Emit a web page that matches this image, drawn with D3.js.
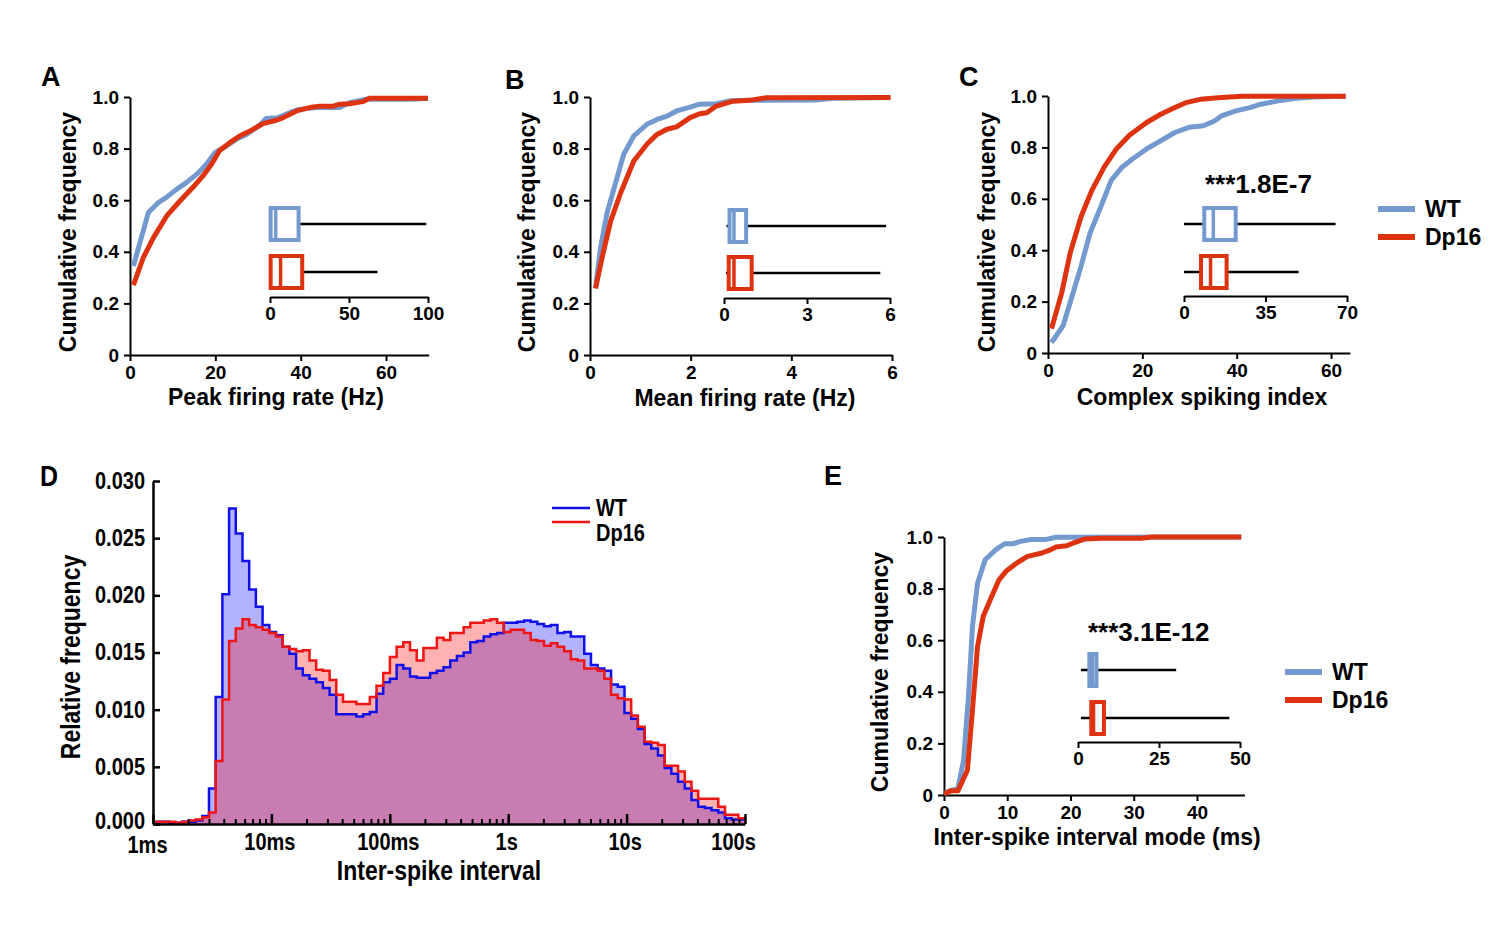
<!DOCTYPE html>
<html>
<head>
<meta charset="utf-8">
<title>Firing properties WT vs Dp16</title>
<style>
  body { margin: 0; background: #fff; }
  svg { display: block; font-family: 'Liberation Sans', Arial, Helvetica, sans-serif; font-weight: bold; }
  .tall { transform-box: fill-box; transform-origin: 50% 50%; transform: scaleY(1.2); }
  .tall2 { transform-box: fill-box; transform-origin: 50% 50%; transform: scaleY(1.15); }
</style>
</head>
<body>
<svg id="fig" width="1500" height="937"></svg>
<script src="https://cdnjs.cloudflare.com/ajax/libs/d3/7.8.5/d3.min.js"></script>
<script>
var WT_COL = '#7399cf', DP_COL = '#dd3311';

// ---- A: peak firing rate (Hz), cumulative [x, f]
var peakWT = [[0.8,0.345],[4.3,0.552],[6.6,0.59],[8.6,0.612],[10.9,0.642],[13.2,0.668],[15.6,0.70],[17.9,0.739],
  [19.9,0.784],[22.6,0.81],[24.9,0.836],[27.3,0.855],[30.4,0.891],[31.9,0.917],[34.7,0.92],[37.4,0.939],[39.7,0.952],
  [43.6,0.959],[49.1,0.959],[51.4,0.978],[55.3,0.991],[66.3,0.991],[69.8,0.995]];
var peakDp = [[0.8,0.271],[3.1,0.377],[5.5,0.455],[8.6,0.539],[11.7,0.597],[14.8,0.651],[17.1,0.694],[19.1,0.739],
  [21.0,0.793],[23.4,0.823],[25.7,0.849],[28.1,0.868],[31.2,0.897],[34.3,0.91],[35.9,0.92],[39.0,0.946],[42.1,0.959],
  [44.4,0.964],[47.5,0.964],[49.1,0.972],[51.4,0.974],[54.6,0.982],[56.1,0.995],[69.8,0.995]];
// box stats: min, q1, median, q3, max
var peakBoxWT = [0, 0.4, 3.6, 18.1, 98.9];
var peakBoxDp = [0, 0.4, 6.7, 20.4, 68];

// ---- B: mean firing rate (Hz)
var meanWT = [[0.11,0.261],[0.21,0.416],[0.34,0.552],[0.51,0.668],[0.67,0.778],[0.87,0.849],[1.13,0.894],[1.33,0.913],
  [1.53,0.926],[1.72,0.946],[1.99,0.961],[2.18,0.972],[2.51,0.974],[2.78,0.985],[3.17,0.987],[4.49,0.988],[4.82,0.995],[5.97,0.998]];
var meanDp = [[0.11,0.258],[0.24,0.377],[0.41,0.519],[0.61,0.629],[0.87,0.752],[1.13,0.817],[1.33,0.855],[1.53,0.875],
  [1.72,0.884],[1.99,0.92],[2.18,0.935],[2.32,0.939],[2.51,0.965],[2.84,0.984],[3.17,0.987],[3.5,0.997],[5.97,0.998]];
var meanBoxWT = [0.09, 0.2, 0.36, 0.8, 5.86];
var meanBoxDp = [0.07, 0.17, 0.36, 1.0, 5.65];

// ---- C: complex spiking index
var csiWT = [[0.75,0.041],[3.2,0.106],[5.1,0.221],[7.0,0.337],[8.9,0.466],[11.2,0.569],[13.4,0.672],[15.7,0.723],
  [17.9,0.755],[20.9,0.794],[23.9,0.826],[26.9,0.858],[29.9,0.878],[32.9,0.884],[35.3,0.903],[36.8,0.923],[39.8,0.942],
  [42.8,0.955],[45.1,0.968],[48.8,0.981],[52.6,0.991],[56.4,0.996],[63.1,0.999]];
var csiDp = [[0.75,0.095],[2.9,0.234],[4.7,0.389],[7.0,0.53],[9.3,0.633],[11.9,0.723],[14.5,0.794],[17.2,0.846],
  [20.9,0.897],[23.9,0.929],[26.9,0.955],[29.2,0.974],[32.3,0.987],[36.8,0.994],[41.3,0.999],[63.1,0.999]];
var csiBoxWT = [0, 8.7, 12.6, 22.2, 65.1];
var csiBoxDp = [0, 7.3, 11.4, 18.3, 49.2];
var csiP = '***1.8E-7';

// ---- E: inter-spike interval mode (ms)
var modeWT = [[0,0.005],[1.1,0.018],[2.2,0.025],[3.1,0.135],[3.9,0.394],[4.5,0.653],[5.3,0.821],[6.5,0.912],[8.2,0.951],
  [9.6,0.974],[11.0,0.974],[12.1,0.983],[13.8,0.99],[16.0,0.99],[17.7,0.999],[47,1.0]];
var modeDp = [[0,0.005],[1.1,0.016],[2.2,0.016],[3.7,0.096],[4.5,0.329],[5.3,0.575],[6.2,0.692],[7.3,0.756],[8.7,0.834],
  [9.8,0.867],[11.5,0.899],[13.2,0.925],[15.5,0.938],[16.6,0.948],[17.7,0.961],[19.4,0.966],[20.5,0.977],[22.2,0.992],
  [25.0,0.995],[31.2,0.995],[32.9,1.0],[47,1.0]];
var modeBoxWT = [0.9, 3.5, 4.5, 5.7, 30.3];
var modeBoxDp = [0.9, 4.1, 4.8, 8.0, 46.7];
var modeP = '***3.1E-12';

// ---- D: ISI histogram, log-spaced bins (log10 seconds)
var isiBinStart = -2.98, isiBinWidth = 0.0566;
var isiWT = [0.0002,0.0002,0.0001,0.0001,0.0002,0.0002,0.0003,0.0007,
  0.0031,0.0111,0.0201,0.0276,0.0254,0.0230,0.0205,0.0190,
  0.0174,0.0168,0.0165,0.0155,0.0149,0.0136,0.0130,0.0127,
  0.0124,0.0119,0.0113,0.0096,0.0096,0.0096,0.0094,0.0096,
  0.0098,0.0114,0.0124,0.0127,0.0139,0.0136,0.0129,0.0128,
  0.0128,0.0132,0.0134,0.0137,0.0143,0.0147,0.0150,0.0159,
  0.0160,0.0164,0.0166,0.0167,0.0176,0.0176,0.0177,0.0178,
  0.0177,0.0175,0.0173,0.0174,0.0167,0.0168,0.0164,0.0164,
  0.0149,0.0139,0.0136,0.0134,0.0122,0.0120,0.0097,0.0092,
  0.0083,0.0070,0.0066,0.0060,0.0049,0.0044,0.0037,0.0031,
  0.0021,0.0015,0.0014,0.0012,0.0010,0.0005,0.0004,0.0004];
var isiDp = [0.0002,0.0002,0.0002,0.0001,0.0002,0.0003,0.0004,0.0006,
  0.0010,0.0055,0.0109,0.0160,0.0171,0.0179,0.0174,0.0172,
  0.0170,0.0167,0.0164,0.0155,0.0153,0.0151,0.0152,0.0143,
  0.0135,0.0134,0.0126,0.0113,0.0107,0.0107,0.0105,0.0105,
  0.0111,0.0121,0.0132,0.0146,0.0155,0.0159,0.0152,0.0143,
  0.0154,0.0154,0.0163,0.0161,0.0167,0.0167,0.0172,0.0176,
  0.0176,0.0178,0.0179,0.0176,0.0168,0.0170,0.0170,0.0167,
  0.0161,0.0160,0.0156,0.0158,0.0155,0.0151,0.0144,0.0143,
  0.0136,0.0136,0.0134,0.0127,0.0113,0.0110,0.0109,0.0095,
  0.0085,0.0072,0.0071,0.0069,0.0051,0.0051,0.0046,0.0037,
  0.0029,0.0022,0.0022,0.0022,0.0015,0.0008,0.0008,0.0005];
var isiTicks = [0.001, 0.01, 0.1, 1, 10, 100];
var isiTickLabels = ['1ms', '10ms', '100ms', '1s', '10s', '100s'];
var relTicks = [0, 0.005, 0.010, 0.015, 0.020, 0.025, 0.030];

var svg = d3.select('#fig');

function styleAxis(g, size, width) {
  g.attr('font-family', null).attr('font-size', null);
  g.select('.domain').attr('stroke', '#000').attr('stroke-width', width || 2);
  g.selectAll('.tick line').attr('stroke', '#000').attr('stroke-width', width || 2);
  g.selectAll('.tick text').attr('fill', '#000').style('font-size', size + 'px');
}

function boxPlot(o) {
  var x = d3.scaleLinear().domain(o.domain).range([o.x0, o.x1]);
  var g = svg.append('g');
  var ax = g.append('g').attr('transform', 'translate(0,' + o.y + ')')
    .call(d3.axisBottom(x).tickValues(o.ticks).tickSize(6).tickSizeOuter(0).tickPadding(4).tickFormat(d3.format('d')));
  styleAxis(ax, 19);
  o.boxes.forEach(function(b) {
    var s = b.stats, h = 32;
    g.append('line').attr('x1', x(s[0])).attr('x2', x(s[4])).attr('y1', b.cy).attr('y2', b.cy)
      .attr('stroke', '#000').attr('stroke-width', 2.5);
    g.append('rect').attr('x', x(s[1])).attr('y', b.cy - h / 2)
      .attr('width', x(s[3]) - x(s[1])).attr('height', h)
      .attr('fill', '#fff').attr('stroke', b.color).attr('stroke-width', 4);
    g.append('line').attr('x1', x(s[2])).attr('x2', x(s[2])).attr('y1', b.cy - h / 2).attr('y2', b.cy + h / 2)
      .attr('stroke', b.color).attr('stroke-width', 3.5);
  });
}

function cdfPanel(o) {
  var x = d3.scaleLinear().domain(o.xDomain).range(o.xRange),
      y = d3.scaleLinear().domain([0, 1]).range(o.yRange);
  var g = svg.append('g');

  var xa = g.append('g').attr('transform', 'translate(0,' + o.yRange[0] + ')')
    .call(d3.axisBottom(x).tickValues(o.xTicks).tickSize(6).tickSizeOuter(0).tickPadding(5).tickFormat(d3.format('d')));
  styleAxis(xa, 19);
  var ya = g.append('g').attr('transform', 'translate(' + o.xRange[0] + ',0)')
    .call(d3.axisLeft(y).tickValues([0, 0.2, 0.4, 0.6, 0.8, 1]).tickSize(6).tickSizeOuter(0).tickPadding(5)
      .tickFormat(function(d) { return d === 0 ? '0' : d3.format('.1f')(d); }));
  styleAxis(ya, 19);

  g.append('text').attr('x', o.xTitle[1]).attr('y', o.xTitle[2]).attr('text-anchor', 'middle')
    .style('font-size', '23px').text(o.xTitle[0]);
  g.append('text').attr('transform', 'translate(' + o.yTitle[0] + ',' + o.yTitle[1] + ') rotate(-90)')
    .attr('text-anchor', 'middle').style('font-size', '23px').text('Cumulative frequency');
  g.append('text').attr('x', o.letter[1]).attr('y', o.letter[2]).style('font-size', '27px').text(o.letter[0]);

  var line = d3.line().x(function(d) { return x(d[0]); }).y(function(d) { return y(d[1]); });
  g.append('path').datum(o.wt).attr('d', line).attr('fill', 'none').attr('stroke', WT_COL)
    .attr('stroke-width', 5).attr('stroke-linejoin', 'round');
  g.append('path').datum(o.dp).attr('d', line).attr('fill', 'none').attr('stroke', DP_COL)
    .attr('stroke-width', 5).attr('stroke-linejoin', 'round');

  boxPlot(o.inset);
  if (o.pText) {
    svg.append('text').attr('x', o.pText[1]).attr('y', o.pText[2]).style('font-size', '26px').text(o.pText[0]);
  }
}

function legend(x, y, dy) {
  [['WT', WT_COL], ['Dp16', DP_COL]].forEach(function(d, i) {
    svg.append('line').attr('x1', x).attr('x2', x + 37).attr('y1', y + i * dy).attr('y2', y + i * dy)
      .attr('stroke', d[1]).attr('stroke-width', 6);
    svg.append('text').attr('x', x + 47).attr('y', y + i * dy).attr('dy', '0.36em')
      .style('font-size', '23px').text(d[0]);
  });
}

cdfPanel({
  letter: ['A', 41, 86], xDomain: [0, 70], xRange: [130, 428.7], yRange: [355, 97], xTicks: [0, 20, 40, 60],
  xTitle: ['Peak firing rate (Hz)', 276, 405], yTitle: [76, 232], wt: peakWT, dp: peakDp,
  inset: { domain: [0, 100], x0: 270, x1: 428, y: 297, ticks: [0, 50, 100],
    boxes: [{ stats: peakBoxWT, color: WT_COL, cy: 224 }, { stats: peakBoxDp, color: DP_COL, cy: 272 }] }
});
cdfPanel({
  letter: ['B', 505, 89], xDomain: [0, 6], xRange: [590, 892], yRange: [355, 97], xTicks: [0, 2, 4, 6],
  xTitle: ['Mean firing rate (Hz)', 745, 406], yTitle: [535, 232], wt: meanWT, dp: meanDp,
  inset: { domain: [0, 6], x0: 724, x1: 890, y: 298, ticks: [0, 3, 6],
    boxes: [{ stats: meanBoxWT, color: WT_COL, cy: 226 }, { stats: meanBoxDp, color: DP_COL, cy: 273 }] }
});
cdfPanel({
  letter: ['C', 959, 86], xDomain: [0, 64], xRange: [1048, 1349.9], yRange: [353, 96], xTicks: [0, 20, 40, 60],
  xTitle: ['Complex spiking index', 1202, 405], yTitle: [995, 232], wt: csiWT, dp: csiDp,
  pText: [csiP, 1205, 193],
  inset: { domain: [0, 70], x0: 1184, x1: 1347, y: 296, ticks: [0, 35, 70],
    boxes: [{ stats: csiBoxWT, color: WT_COL, cy: 224 }, { stats: csiBoxDp, color: DP_COL, cy: 272 }] }
});
cdfPanel({
  letter: ['E', 824, 485], xDomain: [0, 47.5], xRange: [944, 1244.4], yRange: [795, 537], xTicks: [0, 10, 20, 30, 40],
  xTitle: ['Inter-spike interval mode (ms)', 1097, 845], yTitle: [888, 672], wt: modeWT, dp: modeDp,
  pText: [modeP, 1088, 641],
  inset: { domain: [0, 50], x0: 1078, x1: 1240, y: 742, ticks: [0, 25, 50],
    boxes: [{ stats: modeBoxWT, color: WT_COL, cy: 670 }, { stats: modeBoxDp, color: DP_COL, cy: 718 }] }
});
legend(1378, 209, 28);
legend(1285, 672, 28);

// ---- panel D
(function() {
  var x = d3.scaleLog().domain([0.001, 100]).range([153, 745]),
      y = d3.scaleLinear().domain([0, 0.030]).range([824, 481]);
  var g = svg.append('g');
  var edges = d3.range(isiWT.length + 1).map(function(i) { return Math.pow(10, isiBinStart + i * isiBinWidth); });

  function pts(vals) { return vals.concat([vals[vals.length - 1]]); }
  var area = d3.area().curve(d3.curveStepAfter)
    .x(function(d, i) { return x(edges[i]); }).y0(y(0)).y1(function(d) { return y(d); });
  var line = d3.line().curve(d3.curveStepAfter)
    .x(function(d, i) { return x(edges[i]); }).y(function(d) { return y(d); });

  g.append('path').attr('d', area(pts(isiWT))).attr('fill', '#0000ff').attr('fill-opacity', 0.3);
  g.append('path').attr('d', area(pts(isiDp))).attr('fill', '#ff0000').attr('fill-opacity', 0.3);
  g.append('path').attr('d', line(pts(isiWT))).attr('fill', 'none').attr('stroke', '#1010e8').attr('stroke-width', 2.5);
  g.append('path').attr('d', line(pts(isiDp))).attr('fill', 'none').attr('stroke', '#ee1515').attr('stroke-width', 2.5);

  // minor ticks at 2..9 of each decade
  var minor = [];
  isiTicks.slice(0, -1).forEach(function(t) { d3.range(2, 10).forEach(function(m) { minor.push(t * m); }); });
  g.selectAll('.minor').data(minor).enter().append('line')
    .attr('x1', function(d) { return x(d); }).attr('x2', function(d) { return x(d); })
    .attr('y1', y(0)).attr('y2', y(0) - 5).attr('stroke', '#000').attr('stroke-width', 2);

  var xa = g.append('g').attr('transform', 'translate(0,' + y(0) + ')')
    .call(d3.axisBottom(x).tickValues(isiTicks).tickSizeInner(-10).tickSizeOuter(0).tickPadding(11)
      .tickFormat(function(d, i) { return isiTickLabels[i]; }));
  styleAxis(xa, 20, 2.5);
  xa.selectAll('.tick text').classed('tall2', true)
    .attr('dx', function(d, i) { return i === 0 ? -6 : (i === isiTicks.length - 1 ? -12 : -2); })
    .attr('y', function(d, i) { return i === 0 ? 14 : 11; });
  var ya = g.append('g').attr('transform', 'translate(' + x(0.001) + ',0)')
    .call(d3.axisLeft(y).tickValues(relTicks).tickSizeInner(-7).tickSizeOuter(0).tickPadding(8)
      .tickFormat(d3.format('.3f')));
  styleAxis(ya, 20, 2.5);
  ya.selectAll('.tick text').classed('tall2', true)
    .attr('y', function(d) { return d === 0 ? -3 : 0; });

  g.append('text').attr('class', 'tall').attr('x', 439).attr('y', 878).attr('text-anchor', 'middle')
    .style('font-size', '23px').text('Inter-spike interval');
  g.append('g').attr('transform', 'translate(78,657) rotate(-90)')
    .append('text').attr('class', 'tall').attr('text-anchor', 'middle').style('font-size', '23px')
    .text('Relative frequency');
  g.append('text').attr('class', 'tall').attr('x', 40).attr('y', 484).style('font-size', '25px').text('D');

  [['WT', '#1010e8', 508, 507], ['Dp16', '#ee1515', 522, 532]].forEach(function(d) {
    g.append('line').attr('x1', 552).attr('x2', 590).attr('y1', d[2]).attr('y2', d[2])
      .attr('stroke', d[1]).attr('stroke-width', 2.5);
    g.append('text').attr('class', 'tall').attr('x', 596).attr('y', d[3]).attr('dy', '0.36em')
      .style('font-size', '20px').text(d[0]);
  });
})();
</script>
</body>
</html>
